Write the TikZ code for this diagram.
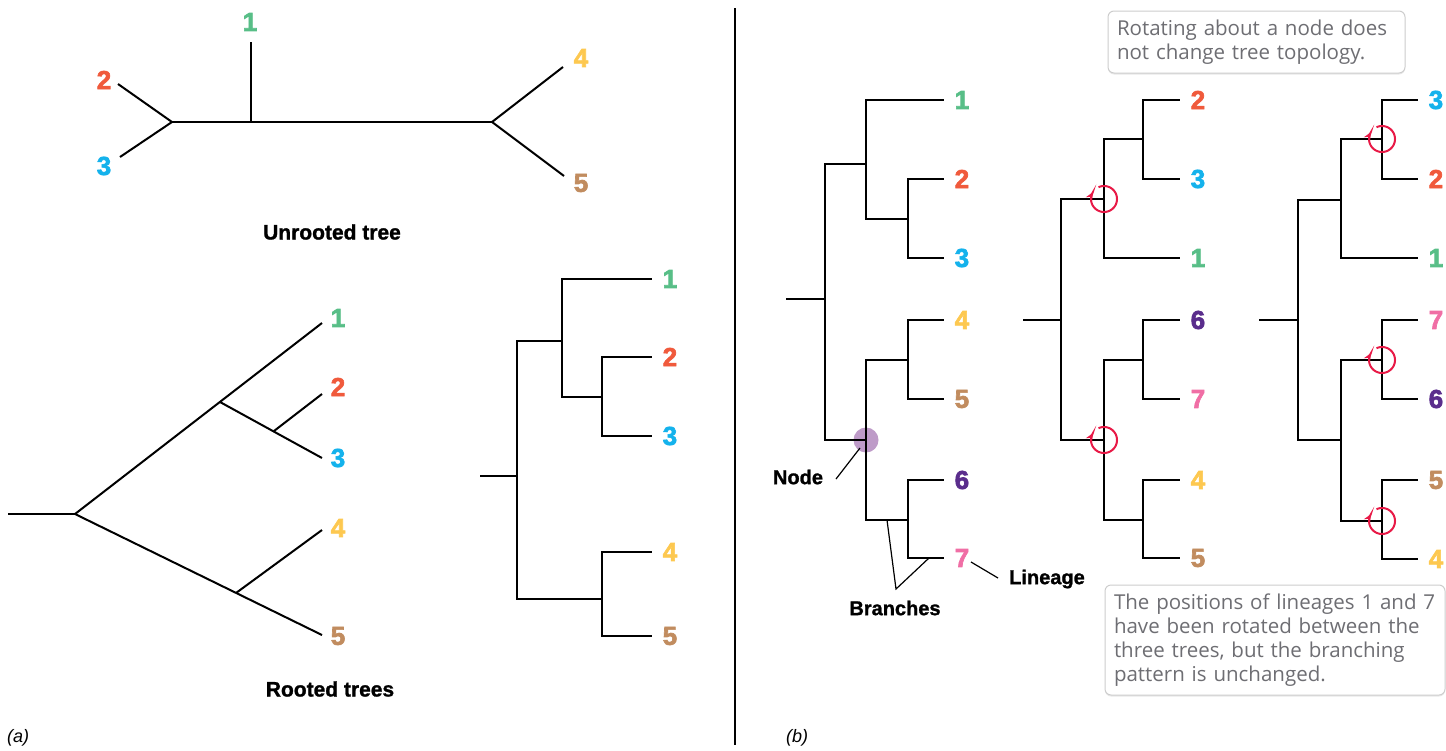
\documentclass[tikz,border=0pt]{standalone}
\usepackage{fontspec}
\setmainfont{Liberation Sans}
\newfontfamily\callfont{Open Sans}
\newfontfamily\heavyfont[FakeBold=2.5]{Liberation Sans Bold}
\newfontfamily\tagfont[FakeBold=1.2]{Liberation Sans Bold}
\usetikzlibrary{arrows.meta,shadows}
\definecolor{cone}{RGB}{88,190,135}
\definecolor{ctwo}{RGB}{240,90,60}
\definecolor{cthree}{RGB}{20,178,236}
\definecolor{cfour}{RGB}{253,200,80}
\definecolor{cfive}{RGB}{193,140,95}
\definecolor{csix}{RGB}{90,45,140}
\definecolor{cseven}{RGB}{240,110,165}
\definecolor{rotc}{RGB}{232,25,70}
\definecolor{nodec}{RGB}{190,155,200}
\definecolor{calltext}{RGB}{110,110,115}
\definecolor{callborder}{RGB}{205,205,205}
\tikzset{
  branch/.style={line width=2pt},
  pointer/.style={line width=1.2pt},
  num/.style={font=\heavyfont\fontsize{26}{26}\selectfont, inner sep=0pt},
  leafnum/.style={num, anchor=west, xshift=10.5pt},
  title/.style={font=\tagfont\fontsize{21}{24}\selectfont, inner sep=0pt},
  tag/.style={font=\tagfont\fontsize{20}{24}\selectfont, inner sep=0pt},
  panel/.style={font=\fontsize{18}{20}\selectfont\itshape, inner sep=0pt, anchor=west},
  callout/.style={draw=callborder, line width=1pt, fill=white, rounded corners=6pt,
    drop shadow={opacity=0.18, shadow xshift=0pt, shadow yshift=-1.5pt},
    font=\callfont\fontsize{20.5}{24}\selectfont, text=calltext, align=left,
    inner xsep=9pt, inner ysep=0pt},
  rotarrow/.style={draw=rotc, line width=2pt, -{Stealth[length=8pt,width=7pt]}},
}
% y axis points down: angle t in the plot is screen angle -t.
% screen start 115 (upper left), clockwise round to 150 (left), arrow pointing up
\newcommand{\rotmark}[1]{%
  \begin{scope}[shift={(#1)}]
  \draw[rotarrow] plot[domain=-115:212, samples=66, smooth] ({13*cos(\x)},{13*sin(\x)});
  \end{scope}}
\begin{document}
\begin{tikzpicture}[x=1pt,y=-1pt]
\useasboundingbox (0,0) rectangle (1446,750);

% divider
\coordinate (divtop) at (735,8);
\coordinate (divbot) at (735,745);
\draw[line width=1.2pt] (divtop) -- (divbot);

% ================= (a) unrooted tree =================
\coordinate (uL) at (172,122);
\coordinate (uM) at (251,122);
\coordinate (uR) at (492,122);
\coordinate (ue1) at (251,42);
\coordinate (ue2) at (118,84);
\coordinate (ue3) at (120,157);
\coordinate (ue4) at (563,67);
\coordinate (ue5) at (564,176);
\draw[branch] (uL) -- (uR);
\draw[branch] (uM) -- (ue1);
\draw[branch] (uL) -- (ue2);
\draw[branch] (uL) -- (ue3);
\draw[branch] (uR) -- (ue4);
\draw[branch] (uR) -- (ue5);
\node[num, text=cone] (ul1) at (250,22) {1};
\node[num, text=ctwo] (ul2) at (104,80) {2};
\node[num, text=cthree] (ul3) at (104,166) {3};
\node[num, text=cfour] (ul4) at (581,58) {4};
\node[num, text=cfive] (ul5) at (581,183) {5};
\node[title] (untitle) at (332,232) {Unrooted tree};

% ================= (a) diagonal rooted tree =================
\coordinate (dr) at (8,514);
\coordinate (dR) at (75,514);
\coordinate (da) at (220,402);
\coordinate (db) at (274,431);
\coordinate (dc) at (236,593);
\coordinate (de1) at (322,323);
\coordinate (de2) at (322,394);
\coordinate (de3) at (322,458);
\coordinate (de4) at (322,530);
\coordinate (de5) at (322,635);
\draw[branch] (dr) -- (dR);
\draw[branch] (dR) -- (de1);
\draw[branch] (da) -- (de3);
\draw[branch] (db) -- (de2);
\draw[branch] (dR) -- (de5);
\draw[branch] (dc) -- (de4);
\node[num, text=cone] (dl1) at (338,318) {1};
\node[num, text=ctwo] (dl2) at (338,387) {2};
\node[num, text=cthree] (dl3) at (338,458) {3};
\node[num, text=cfour] (dl4) at (338,528) {4};
\node[num, text=cfive] (dl5) at (338,636) {5};

% ================= (a) rectangular rooted tree =================
\coordinate (rr) at (480,476);
\coordinate (rn) at (517,476);
\coordinate (ra) at (562,341);
\coordinate (rb) at (602,397);
\coordinate (rc) at (602,599);
\coordinate (rl1) at (652,279);
\coordinate (rl2) at (652,357);
\coordinate (rl3) at (652,436);
\coordinate (rl4) at (652,552);
\coordinate (rl5) at (652,636);
\draw[branch] (rr) -- (rn);
\draw[branch] (rn) |- (ra);
\draw[branch] (rn) |- (rc);
\draw[branch] (ra) |- (rl1);
\draw[branch] (ra) |- (rb);
\draw[branch] (rb) |- (rl2);
\draw[branch] (rb) |- (rl3);
\draw[branch] (rc) |- (rl4);
\draw[branch] (rc) |- (rl5);
\node[leafnum, text=cone] (rt1) at (rl1) {1};
\node[leafnum, text=ctwo] (rt2) at (rl2) {2};
\node[leafnum, text=cthree] (rt3) at (rl3) {3};
\node[leafnum, text=cfour] (rt4) at (rl4) {4};
\node[leafnum, text=cfive] (rt5) at (rl5) {5};
\node[title] (rtitle) at (330,689) {Rooted trees};

\node[panel] (pa) at (7,738) {(a)};

% ================= (b) tree 1 =================
\coordinate (ar) at (786,299);
\coordinate (an) at (825,299);
\coordinate (aa) at (866,164);
\coordinate (ab) at (908,219);
\coordinate (ac) at (866,440);
\coordinate (ad) at (908,360);
\coordinate (ae) at (908,520);
\coordinate (al1) at (944,100);
\coordinate (al2) at (944,179);
\coordinate (al3) at (944,258);
\coordinate (al4) at (944,320);
\coordinate (al5) at (944,399);
\coordinate (al6) at (944,480);
\coordinate (al7) at (944,558);
\node[circle, fill=nodec, inner sep=0pt, minimum size=25pt] (nodedot) at (ac) {};
\draw[branch] (ar) -- (an);
\draw[branch] (an) |- (aa);
\draw[branch] (an) |- (ac);
\draw[branch] (aa) |- (al1);
\draw[branch] (aa) |- (ab);
\draw[branch] (ab) |- (al2);
\draw[branch] (ab) |- (al3);
\draw[branch] (ac) |- (ad);
\draw[branch] (ac) |- (ae);
\draw[branch] (ad) |- (al4);
\draw[branch] (ad) |- (al5);
\draw[branch] (ae) |- (al6);
\draw[branch] (ae) |- (al7);
\node[leafnum, text=cone] (at1) at (al1) {1};
\node[leafnum, text=ctwo] (at2) at (al2) {2};
\node[leafnum, text=cthree] (at3) at (al3) {3};
\node[leafnum, text=cfour] (at4) at (al4) {4};
\node[leafnum, text=cfive] (at5) at (al5) {5};
\node[leafnum, text=csix] (at6) at (al6) {6};
\node[leafnum, text=cseven] (at7) at (al7) {7};

% annotations
\node[tag] (nodelab) at (798,477) {Node};
\coordinate (npA) at (860,448);
\coordinate (npB) at (836,479);
\draw[pointer] (npA) -- (npB);
\node[tag] (branchlab) at (895,608) {Branches};
\coordinate (bpA) at (887,520);
\coordinate (bpV) at (896,589);
\coordinate (bpB) at (929,558);
\draw[pointer, line join=miter] (bpA) -- (bpV) -- (bpB);
\node[tag] (lineagelab) at (1047,579) {Lineage};
\coordinate (lpA) at (971,562);
\coordinate (lpB) at (998,578);
\draw[pointer] (lpA) -- (lpB);

% ================= (b) tree 2 =================
\coordinate (br) at (1023,320);
\coordinate (bn) at (1061,320);
\coordinate (ba) at (1104,199);
\coordinate (bb) at (1143,139);
\coordinate (bc) at (1104,440);
\coordinate (bd) at (1143,360);
\coordinate (be) at (1143,520);
\coordinate (bl2) at (1180,100);
\coordinate (bl3) at (1180,179);
\coordinate (bl1) at (1180,258);
\coordinate (bl6) at (1180,320);
\coordinate (bl7) at (1180,399);
\coordinate (bl4) at (1180,480);
\coordinate (bl5) at (1180,558);
\draw[branch] (br) -- (bn);
\draw[branch] (bn) |- (ba);
\draw[branch] (bn) |- (bc);
\draw[branch] (ba) |- (bb);
\draw[branch] (ba) |- (bl1);
\draw[branch] (bb) |- (bl2);
\draw[branch] (bb) |- (bl3);
\draw[branch] (bc) |- (bd);
\draw[branch] (bc) |- (be);
\draw[branch] (bd) |- (bl6);
\draw[branch] (bd) |- (bl7);
\draw[branch] (be) |- (bl4);
\draw[branch] (be) |- (bl5);
\node[leafnum, text=ctwo] (bt2) at (bl2) {2};
\node[leafnum, text=cthree] (bt3) at (bl3) {3};
\node[leafnum, text=cone] (bt1) at (bl1) {1};
\node[leafnum, text=csix] (bt6) at (bl6) {6};
\node[leafnum, text=cseven] (bt7) at (bl7) {7};
\node[leafnum, text=cfour] (bt4) at (bl4) {4};
\node[leafnum, text=cfive] (bt5) at (bl5) {5};
\rotmark{ba}
\rotmark{bc}

% ================= (b) tree 3 =================
\coordinate (cr) at (1259,320);
\coordinate (cn) at (1298,320);
\coordinate (ca) at (1341,200);
\coordinate (cb) at (1382,139);
\coordinate (cc) at (1341,440);
\coordinate (cd) at (1382,360);
\coordinate (ce) at (1382,521);
\coordinate (cl3) at (1418,100);
\coordinate (cl2) at (1418,179);
\coordinate (cl1) at (1418,258);
\coordinate (cl7) at (1418,320);
\coordinate (cl6) at (1418,399);
\coordinate (cl5) at (1418,480);
\coordinate (cl4) at (1418,559);
\draw[branch] (cr) -- (cn);
\draw[branch] (cn) |- (ca);
\draw[branch] (cn) |- (cc);
\draw[branch] (ca) |- (cb);
\draw[branch] (ca) |- (cl1);
\draw[branch] (cb) |- (cl3);
\draw[branch] (cb) |- (cl2);
\draw[branch] (cc) |- (cd);
\draw[branch] (cc) |- (ce);
\draw[branch] (cd) |- (cl7);
\draw[branch] (cd) |- (cl6);
\draw[branch] (ce) |- (cl5);
\draw[branch] (ce) |- (cl4);
\node[leafnum, text=cthree] (ct3) at (cl3) {3};
\node[leafnum, text=ctwo] (ct2) at (cl2) {2};
\node[leafnum, text=cone] (ct1) at (cl1) {1};
\node[leafnum, text=cseven] (ct7) at (cl7) {7};
\node[leafnum, text=csix] (ct6) at (cl6) {6};
\node[leafnum, text=cfive] (ct5) at (cl5) {5};
\node[leafnum, text=cfour] (ct4) at (cl4) {4};
\rotmark{cb}
\rotmark{cd}
\rotmark{ce}

% ================= callouts =================
\node[callout, minimum width=297pt, minimum height=62pt, text width=279pt] (topnote) at (1256.5,42)
  {Rotating about a node does\\not change tree topology.};
\node[callout, minimum width=340pt, minimum height=110pt, text width=322pt] (botnote) at (1275,640)
  {The positions of lineages 1 and 7\\have been rotated between the\\three trees, but the branching\\pattern is unchanged.};

\node[panel] (pb) at (786,738) {(b)};
\end{tikzpicture}
\end{document}
